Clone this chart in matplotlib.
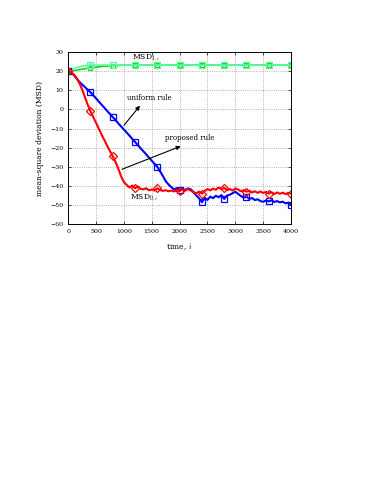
import numpy as np
import matplotlib.pyplot as plt

# time axis, sampled every 50 iterations
t = np.arange(0, 4001, 50)

msd_blue = [20, 19.4, 18, 16.2, 14.5, 13, 11.7, 10.3, 9, 7.4, 5.8, 4.1, 2.5, 0.9, -0.8, -2.4,
            -4, -5.6, -7.3, -8.9, -10.5, -12.1, -13.7, -15.4, -17, -18.6, -20.3, -21.9, -23.5,
            -25.2, -26.8, -28.5, -30, -32.4, -34.8, -37.5, -39.2, -40.6, -41.8, -41.2, -42.3,
            -41.5, -42.1, -41.3, -41.8, -43.2, -45.0, -46.5, -48.5, -46.2, -47.3, -45.6, -46.4,
            -45.1, -45.9, -44.8, -46.8, -45.0, -44.6, -43.8, -43.0, -44.2, -45.3, -46.1, -45.6,
            -46.8, -46.3, -47.4, -47.0, -47.9, -48.3, -47.6, -48.1, -47.5, -48.4, -47.9, -48.6,
            -48.2, -49.1, -48.7, -49.8]

msd_red = [20, 19.5, 18.3, 16.5, 13.8, 10.5, 6.5, 2.5, -1, -4, -7, -10, -13.2, -16, -19, -21.8,
           -24.5, -27.5, -31, -35, -38, -39.5, -40.8, -39.8, -41.2, -40.3, -41.5, -41.8, -41.2,
           -42.3, -41.9, -42.4, -41.2, -42.1, -42.6, -42.2, -42.8, -42.4, -42.9, -42.3, -42.7,
           -41.8, -42.5, -41.6, -42.4, -43.3, -43.8, -42.9, -44.0, -42.6, -41.6, -42.3, -41.4,
           -42.0, -40.8, -41.7, -41.0, -42.2, -41.6, -42.4, -41.3, -41.9, -42.8, -42.2, -43.0,
           -42.5, -43.4, -42.8, -43.6, -42.9, -43.7, -43.1, -44.0, -43.3, -44.2, -43.4, -44.1,
           -43.5, -44.3, -43.6, -44.0]

msd_green_dark = [20, 20.1, 20.3, 20.5, 20.8, 21.1, 21.3, 21.5, 21.7, 21.9, 22.1, 22.3, 22.5,
                  22.6, 22.7, 22.8, 22.9, 23.0, 23.0, 23.1, 23.1] + [23.2] * 60

msd_green_light = [20, 20.6, 21.3, 21.9, 22.3, 22.6, 22.8, 22.9, 23.0, 23.1, 23.1] + [23.2] * 70

plt.rcParams['font.family'] = ['DejaVu Serif']
plt.rcParams['mathtext.fontset'] = 'cm'

fig = plt.figure(figsize=(3.83, 4.96), dpi=100)
ax = fig.add_axes([0.178, 0.548, 0.582, 0.347])

ax.plot(t, msd_green_dark, color='#22cc22', lw=1.2, marker='s', markevery=8, ms=3.5,
        mfc='none', mew=0.9)
ax.plot(t, msd_green_light, color='#55ff99', lw=1.2, marker='s', markevery=8, ms=4.5,
        mfc='none', mew=0.9)
ax.plot(t[8], msd_green_light[8], color='#55ff99', marker='^', ms=4.5, mfc='none', mew=0.9)
ax.plot(t, msd_blue, color='#0000ff', lw=1.5, marker='s', markevery=8, ms=4,
        mfc='none', mew=0.9)
ax.plot(t, msd_red, color='#ff0000', lw=1.5, marker='D', markevery=8, ms=4,
        mfc='none', mew=0.9)

ax.set_xlim(0, 4000)
ax.set_ylim(-60, 30)
ax.set_xticks(np.arange(0, 4001, 500))
ax.set_yticks(np.arange(-60, 31, 10))
ax.tick_params(direction='in', top=True, right=True, labelsize=4.5, length=2, width=0.5)
ax.grid(True, linestyle=':', color='#999999', lw=0.6)
for s in ax.spines.values():
    s.set_linewidth(0.7)

ax.set_xlabel('time, $i$', fontsize=5.5, labelpad=5)
ax.set_ylabel('mean-square deviation (MSD)', fontsize=5.5, labelpad=4)

# annotations
arrow = dict(arrowstyle='-|>', color='black', lw=0.8, mutation_scale=6)
ax.annotate('', xy=(1320, 3.1), xytext=(970, -9.4), arrowprops=arrow)
ax.text(1450, 6.2, 'uniform rule', fontsize=5, ha='center', va='center')
ax.annotate('', xy=(2066, -18.7), xytext=(920, -31.8), arrowprops=arrow)
ax.text(2180, -14.9, 'proposed rule', fontsize=5, ha='center', va='center')
ax.text(1390, 27.3, r'MSD$_{1,i}$', fontsize=5.5, ha='center', va='center')
ax.text(1370, -46.3, r'MSD$_{0,i}$', fontsize=5.5, ha='center', va='center')

fig.savefig('out.png', dpi=100)
